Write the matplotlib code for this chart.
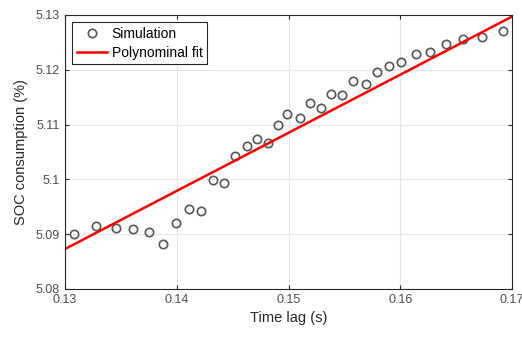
import matplotlib
matplotlib.use("Agg")
import matplotlib.pyplot as plt

plt.rcParams['font.family'] = ['Liberation Sans', 'DejaVu Sans']

# simulation points
lag = [0.1308, 0.1328, 0.1346, 0.1361, 0.1375, 0.1388, 0.1399, 0.1411, 0.1422,
       0.1432, 0.1442, 0.1452, 0.1463, 0.1472, 0.1482, 0.1491, 0.1499, 0.1510,
       0.1519, 0.1529, 0.1538, 0.1548, 0.1558, 0.1569, 0.1579, 0.1590, 0.1601,
       0.1614, 0.1627, 0.1641, 0.1656, 0.1673, 0.1692]
soc = [5.0900, 5.0915, 5.0912, 5.0910, 5.0904, 5.0882, 5.0920, 5.0946, 5.0943,
       5.0998, 5.0994, 5.1043, 5.1061, 5.1074, 5.1067, 5.1100, 5.1120, 5.1111,
       5.1140, 5.1130, 5.1155, 5.1153, 5.1180, 5.1173, 5.1195, 5.1206, 5.1214,
       5.1229, 5.1232, 5.1246, 5.1256, 5.1260, 5.1270]

# polynomial fit end points
fit_x = [0.13, 0.17]
fit_y = [5.0873, 5.1297]

xticks = [0.13, 0.14, 0.15, 0.16, 0.17]
yticks = [5.08, 5.09, 5.1, 5.11, 5.12, 5.13]

fig = plt.figure(figsize=(5.22, 3.38), dpi=100)
ax = fig.add_axes([0.1245, 0.145, 0.8565, 0.811])

ax.plot(lag, soc, 'o', mfc='none', mec='#555555', mew=1.2, ms=6, label='Simulation')
ax.plot(fit_x, fit_y, '-', color='#ff0000', lw=1.8, label='Polynominal fit')

ax.set_xlim(0.13, 0.17)
ax.set_ylim(5.08, 5.13)
ax.set_xticks(xticks)
ax.set_xticklabels([str(t) for t in xticks])
ax.set_yticks(yticks)
ax.set_yticklabels([str(t) for t in yticks])
ax.grid(True, color='#e6e6e6', lw=0.8)
ax.set_axisbelow(True)
ax.tick_params(direction='in', top=True, right=True, labelsize=9, colors='#262626',
               length=3, labelcolor='#4d4d4d')
for s in ax.spines.values():
    s.set_color('#262626')
    s.set_linewidth(0.8)

ax.set_xlabel('Time lag (s)', fontsize=10.5, color='#262626', labelpad=4)
ax.set_ylabel('SOC consumption (%)', fontsize=10.5, color='#262626', labelpad=6)

leg = ax.legend(loc='upper left', fontsize=10, fancybox=False, edgecolor='#262626',
                framealpha=1, borderaxespad=0.5, handlelength=2.2, handletextpad=0.3,
                borderpad=0.35, labelspacing=0.35)
leg.get_frame().set_linewidth(0.8)

fig.savefig('out.png', dpi=100)
